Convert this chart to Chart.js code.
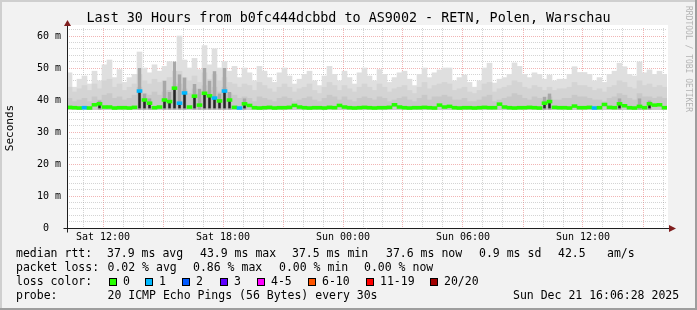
<!DOCTYPE html>
<html>
<head>
<meta charset="utf-8">
<script src="https://cdn.jsdelivr.net/npm/chart.js@4.4.1/dist/chart.umd.min.js"></script>
<style>
  html, body { margin: 0; padding: 0; background: #f2f2f2; }
  canvas { display: block; }
</style>
</head>
<body>
<canvas id="smoke" width="697" height="310"></canvas>
<script>
// time axis in hours since Sat 00:00, one bucket = 15 min
const START_HOUR = 10.2;
const END_HOUR = 40.2;
const STEP = 0.25;
const SMOKE_FLOOR = 37.0;

const title = 'Last 30 Hours from b0fc444dcbbd to AS9002 - RETN, Polen, Warschau';

const xTickHours = [12, 18, 24, 30, 36];
const xTickLabels = ['Sat 12:00', 'Sat 18:00', 'Sun 00:00', 'Sun 06:00', 'Sun 12:00'];
const yTickValues = [0, 10, 20, 30, 40, 50, 60];
const yTickLabels = ['0  ', '10 m', '20 m', '30 m', '40 m', '50 m', '60 m'];

// median rtt per bucket (ms)
const median = [
  37.7, 37.6, 37.5, 37.6, 37.5, 38.5, 38.8, 37.8, 37.8, 37.5,
  37.6, 37.6, 37.5, 37.7, 42.8, 40.0, 39.0, 37.6, 37.8, 40.0,
  39.5, 43.7, 39.0, 42.2, 37.8, 41.2, 38.4, 42.1, 41.3, 40.6,
  39.7, 42.8, 40.0, 37.7, 37.5, 38.8, 38.3, 37.6, 37.5, 37.6,
  37.7, 37.5, 37.6, 37.6, 37.7, 38.3, 37.8, 37.6, 37.5, 37.6,
  37.6, 37.5, 37.7, 37.6, 38.3, 37.8, 37.6, 37.5, 37.6, 37.7,
  37.6, 37.5, 37.6, 37.6, 37.7, 38.5, 37.8, 37.6, 37.5, 37.6,
  37.6, 37.7, 37.6, 37.5, 38.4, 37.8, 38.0, 37.6, 37.5, 37.6,
  37.6, 37.5, 37.6, 37.7, 37.6, 37.6, 38.7, 37.8, 37.6, 37.5,
  37.6, 37.6, 37.7, 37.6, 37.5, 39.0, 39.5, 37.7, 37.6, 37.6,
  37.5, 38.1, 37.6, 37.6, 37.7, 37.5, 37.6, 38.6, 37.7, 37.6,
  38.8, 38.2, 37.6, 37.5, 38.0, 37.6, 38.8, 38.4, 38.5, 37.6
];

// buckets where 1 of 20 pings was lost
const lossOneBuckets = [3, 14, 22, 23, 29, 31, 34, 105];

// smoke: highest ping, upper and lower bands (ms)
const smokeMax = [
  48.5, 44.0, 46.5, 47.5, 45.0, 49.0, 46.0, 51.0, 52.5, 47.0,
  49.5, 45.5, 47.0, 48.0, 55.0, 50.0, 48.5, 51.0, 49.0, 50.5,
  52.0, 49.0, 60.0, 52.5, 50.0, 53.0, 49.5, 57.0, 51.0, 56.0,
  50.0, 52.0, 49.0, 50.5, 47.0, 50.0, 48.5, 46.0, 50.5, 49.0,
  47.0, 45.5, 48.5, 50.0, 47.5, 45.0, 46.5, 48.0, 49.0, 46.0,
  44.5, 47.5, 50.5, 48.0, 46.0, 49.0, 47.0, 45.0, 48.5, 50.0,
  47.5, 46.0, 49.5, 48.0, 45.5, 47.0, 48.5, 49.0, 46.5, 44.5,
  48.0, 50.0, 47.0, 48.5, 49.4, 50.0, 50.0, 46.0, 47.0, 47.8,
  45.5, 44.0, 46.0, 50.0, 51.5, 45.3, 46.5, 47.0, 48.0, 51.6,
  50.5, 48.0, 47.0, 48.5, 48.0, 46.5, 47.8, 46.0, 46.5, 46.5,
  48.0, 50.4, 48.6, 48.6, 48.0, 46.0, 47.0, 45.5, 48.0, 49.0,
  51.5, 50.4, 48.0, 47.5, 51.9, 48.5, 49.4, 48.0, 49.0, 48.0
];
const smokeMid = [
  44.0, 42.5, 43.5, 44.5, 43.0, 45.0, 43.5, 46.0, 46.5, 44.0,
  45.0, 43.0, 44.0, 45.0, 48.0, 46.0, 45.0, 46.5, 45.5, 46.0,
  47.0, 45.5, 49.0, 47.0, 46.0, 47.5, 45.5, 48.5, 46.5, 48.0,
  46.0, 47.0, 45.5, 45.0, 44.0, 45.0, 44.5, 43.0, 45.5, 44.5,
  43.5, 42.5, 44.0, 45.0, 44.0, 42.5, 43.5, 44.0, 45.0, 43.0,
  42.0, 44.0, 45.5, 44.5, 43.0, 44.5, 43.5, 42.5, 44.0, 45.0,
  44.0, 43.0, 45.0, 44.0, 42.5, 43.5, 44.0, 44.5, 43.0, 42.0,
  44.0, 45.5, 43.5, 44.5, 45.0, 45.5, 45.0, 43.0, 43.5, 44.0,
  42.5, 42.0, 43.0, 45.0, 45.5, 42.5, 43.5, 44.0, 44.5, 46.0,
  45.5, 44.0, 43.5, 44.5, 44.0, 43.0, 44.0, 43.0, 43.5, 43.5,
  44.0, 45.5, 44.5, 44.5, 44.0, 43.0, 43.5, 42.5, 44.0, 44.5,
  46.0, 45.5, 44.0, 43.5, 46.0, 44.5, 45.0, 44.0, 44.5, 44.0
];
const smokeLow = [
  40.5, 39.5, 40.0, 40.5, 39.5, 41.0, 40.0, 41.5, 42.0, 40.5,
  41.0, 40.0, 40.5, 41.5, 44.0, 42.0, 41.5, 42.5, 41.5, 42.5,
  43.0, 42.5, 45.0, 43.5, 42.0, 43.5, 42.0, 44.5, 43.0, 44.0,
  42.5, 44.0, 42.0, 41.5, 40.5, 41.0, 40.5, 39.5, 41.0, 40.5,
  40.0, 39.5, 40.5, 41.0, 40.5, 39.5, 40.0, 40.5, 41.0, 40.0,
  39.5, 40.5, 41.5, 41.0, 40.0, 41.0, 40.0, 39.5, 40.5, 41.0,
  40.5, 40.0, 41.0, 40.5, 39.5, 40.0, 40.5, 41.0, 40.0, 39.5,
  40.5, 41.5, 40.0, 41.0, 41.0, 41.5, 41.0, 40.0, 40.0, 40.5,
  39.5, 39.5, 40.0, 41.0, 41.5, 39.5, 40.0, 40.5, 41.0, 42.0,
  41.5, 40.5, 40.0, 41.0, 40.5, 40.0, 41.0, 40.0, 40.0, 40.5,
  40.5, 41.5, 41.0, 41.0, 40.5, 40.0, 40.0, 39.5, 40.5, 41.0,
  42.0, 41.5, 40.5, 40.0, 42.0, 41.0, 41.0, 40.5, 41.0, 40.5
];

// darker smoke streaks
const streakBuckets = [6, 14, 15, 16, 19, 20, 21, 22, 23, 25, 26, 27, 28, 29, 30, 31, 32, 35, 95, 96, 110, 114, 116];
const streakTop = [39.8, 50.0, 42.0, 40.5, 46.0, 42.5, 52.0, 48.0, 47.0, 45.0, 43.5, 50.0, 46.0, 49.0, 42.0, 50.0, 42.5, 40.5, 41.0, 42.0, 40.5, 40.5, 39.8];

const lossColors = ['#26ff00', '#00b8ff', '#0059ff', '#5e00ff', '#ff00ff', '#ff5500', '#ff0000', '#a10000'];
const lossLabels = ['0', '1', '2', '3', '4-5', '6-10', '11-19', '20/20'];

const rttStats = ['37.9 ms avg', '43.9 ms max', '37.5 ms min', '37.6 ms now', '0.9 ms sd', '42.5', 'am/s'];
const lossStats = ['0.02 % avg', '0.86 % max', '0.00 % min', '0.00 % now'];
const probeText = '20 ICMP Echo Pings (56 Bytes) every 30s';
const stampText = 'Sun Dec 21 16:06:28 2025';

const bucketHour = i => START_HOUR + STEP * (i + 0.5);

const MONO = '"DejaVu Sans Mono", monospace';
const minorGrid = 'rgba(143,143,143,0.38)';
const majorGrid = 'rgba(222,79,79,0.42)';

function bars(values) {
  return values.map((v, i) => ({ x: bucketHour(i), y: [SMOKE_FLOOR, v] }));
}

const medianColors = median.map((v, i) => lossOneBuckets.includes(i) ? lossColors[1] : lossColors[0]);

const barBase = {
  type: 'bar',
  grouped: false,
  categoryPercentage: 1,
  barPercentage: 1,
  borderWidth: 0,
  borderSkipped: false
};

const datasets = [
  Object.assign({}, barBase, {
    label: 'median',
    data: median.map((v, i) => ({ x: bucketHour(i), y: [v - 0.45, v + 0.45] })),
    backgroundColor: medianColors
  }),
  Object.assign({}, barBase, {
    label: 'core',
    data: median.map((v, i) => ({ x: bucketHour(i), y: v >= 38.8 ? [SMOKE_FLOOR + 0.4, v] : null })).filter(d => d.y),
    backgroundColor: '#262626',
    barPercentage: 0.5
  }),
  Object.assign({}, barBase, {
    label: 'streak',
    data: streakBuckets.map((b, k) => ({ x: bucketHour(b), y: [SMOKE_FLOOR, streakTop[k]] })),
    backgroundColor: '#a8a8a8',
    barPercentage: 0.7
  }),
  Object.assign({}, barBase, {
    label: 'low',
    data: bars(smokeLow),
    backgroundColor: '#c8c8c8'
  }),
  Object.assign({}, barBase, {
    label: 'mid',
    data: bars(smokeMid),
    backgroundColor: '#d4d4d4'
  }),
  Object.assign({}, barBase, {
    label: 'max',
    data: bars(smokeMax),
    backgroundColor: '#dfdfdf'
  })
];

const frame = {
  id: 'frame',
  beforeDraw(chart) {
    const { ctx, chartArea: a, width, height } = chart;
    ctx.save();
    ctx.fillStyle = '#f2f2f2';
    ctx.fillRect(0, 0, width, height);
    ctx.fillStyle = '#ffffff';
    ctx.fillRect(a.left, a.top - 3, a.right - a.left + 1, a.bottom - a.top + 3);
    ctx.restore();
  },
  afterDraw(chart) {
    const { ctx, chartArea: a, width, height } = chart;
    ctx.save();
    const ax = Math.round(a.left) + 0.5;
    const ay = Math.round(a.bottom) + 0.5;

    // axes
    ctx.strokeStyle = '#1f1f1f';
    ctx.lineWidth = 1;
    ctx.beginPath();
    ctx.moveTo(ax - 4, ay);
    ctx.lineTo(a.right + 3, ay);
    ctx.moveTo(ax, ay + 4);
    ctx.lineTo(ax, a.top - 3);
    ctx.stroke();

    // arrows
    ctx.fillStyle = '#801f1f';
    ctx.beginPath();
    ctx.moveTo(ax, a.top - 8);
    ctx.lineTo(ax - 3.5, a.top - 2);
    ctx.lineTo(ax + 3.5, a.top - 2);
    ctx.closePath();
    ctx.fill();
    ctx.beginPath();
    ctx.moveTo(a.right + 9, ay);
    ctx.lineTo(a.right + 2, ay - 3.5);
    ctx.lineTo(a.right + 2, ay + 3.5);
    ctx.closePath();
    ctx.fill();

    // title
    ctx.fillStyle = '#000';
    ctx.textBaseline = 'middle';
    ctx.textAlign = 'center';
    ctx.font = '13.4px ' + MONO;
    ctx.fillText(title, width / 2, 19);

    // y axis title
    ctx.save();
    ctx.translate(10, (a.top + a.bottom) / 2);
    ctx.rotate(-Math.PI / 2);
    ctx.font = '11px ' + MONO;
    ctx.fillText('Seconds', 0, 0);
    ctx.restore();

    // legend rows
    ctx.textAlign = 'left';
    ctx.font = '11.5px ' + MONO;
    const rows = [254, 268, 282, 296];
    ctx.fillText('median rtt:', 16, rows[0]);
    const rttX = [107, 200, 292, 386, 479, 558, 607];
    rttStats.forEach((t, i) => ctx.fillText(t, rttX[i], rows[0]));

    ctx.fillText('packet loss:', 16, rows[1]);
    const lossX = [107.5, 193, 279, 364];
    lossStats.forEach((t, i) => ctx.fillText(t, lossX[i], rows[1]));

    ctx.fillText('loss color:', 16, rows[2]);
    const boxX = [109, 145, 182, 220, 257, 308, 366, 430];
    lossColors.forEach((c, i) => {
      ctx.fillStyle = c;
      ctx.fillRect(boxX[i], rows[2] - 4, 8, 8);
      ctx.strokeStyle = '#000';
      ctx.strokeRect(boxX[i] + 0.5, rows[2] - 3.5, 7, 7);
      ctx.fillStyle = '#000';
      ctx.fillText(lossLabels[i], boxX[i] + 14, rows[2]);
    });

    ctx.fillText('probe:', 16, rows[3]);
    ctx.fillText(probeText, 107.5, rows[3]);
    ctx.fillText(stampText, 513, rows[3]);

    // watermark
    ctx.save();
    ctx.translate(688, 6);
    ctx.rotate(Math.PI / 2);
    ctx.font = '8px ' + MONO;
    ctx.fillStyle = '#b4b4b4';
    ctx.textBaseline = 'middle';
    ctx.fillText('RRDTOOL / TOBI OETIKER', 0, 0);
    ctx.restore();

    // 3d border
    ctx.fillStyle = '#cfcfcf';
    ctx.fillRect(0, 0, width, 2);
    ctx.fillRect(0, 0, 2, height);
    ctx.fillStyle = '#9e9e9e';
    ctx.fillRect(width - 2, 0, 2, height);
    ctx.fillRect(0, height - 2, width, 2);
    ctx.restore();
  }
};

new Chart(document.getElementById('smoke'), {
  type: 'bar',
  data: { datasets },
  options: {
    responsive: false,
    animation: false,
    events: [],
    devicePixelRatio: 1,
    layout: { padding: { left: 0, right: 30, top: 28, bottom: 68 } },
    plugins: {
      legend: { display: false },
      tooltip: { enabled: false },
      title: { display: false }
    },
    scales: {
      x: {
        type: 'linear',
        min: START_HOUR,
        max: END_HOUR,
        offset: false,
        z: 1,
        afterBuildTicks: scale => {
          const t = [];
          for (let h = 11; h <= 40; h++) t.push({ value: h });
          scale.ticks = t;
        },
        afterFit: scale => { scale.height = 14; },
        ticks: {
          autoSkip: false,
          maxRotation: 0,
          minRotation: 0,
          padding: 3,
          color: '#000',
          font: { family: MONO, size: 10 },
          callback: v => {
            const k = xTickHours.indexOf(v);
            return k >= 0 ? xTickLabels[k] : '';
          }
        },
        grid: {
          drawTicks: false,
          offset: false,
          lineWidth: 1,
          color: c => (c.tick && c.tick.value % 3 === 0) ? majorGrid : minorGrid
        },
        border: { display: false, dash: [1, 1] }
      },
      y: {
        type: 'linear',
        min: 0,
        max: 62.5,
        z: 1,
        afterBuildTicks: scale => {
          const t = [];
          for (let v = 0; v <= 62; v += 2) t.push({ value: v });
          scale.ticks = t;
        },
        afterFit: scale => { scale.width = 67; },
        ticks: {
          autoSkip: false,
          padding: 6,
          color: '#000',
          font: { family: MONO, size: 10 },
          callback: v => {
            const k = yTickValues.indexOf(v);
            return k >= 0 ? yTickLabels[k] : '';
          }
        },
        grid: {
          drawTicks: false,
          lineWidth: 1,
          color: c => (c.tick && c.tick.value % 10 === 0) ? majorGrid : minorGrid
        },
        border: { display: false, dash: [1, 1] }
      }
    }
  },
  plugins: [frame]
});
</script>
</body>
</html>
